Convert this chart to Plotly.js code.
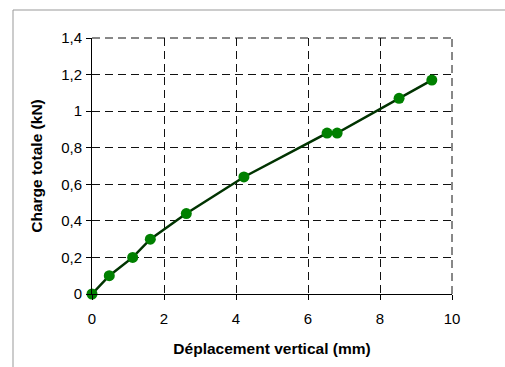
<!DOCTYPE html>
<html>
<head>
<meta charset="utf-8">
<script src="https://cdn.plot.ly/plotly-3.0.1.min.js"></script>
<style>
html,body{margin:0;padding:0;background:#fff;}
#chart{width:505px;height:367px;}
</style>
</head>
<body>
<div id="chart"></div>
<script>
const deplacement = [0, 0.48, 1.13, 1.62, 2.62, 4.22, 6.53, 6.81, 8.53, 9.44];
const charge = [0, 0.10, 0.20, 0.30, 0.44, 0.64, 0.88, 0.88, 1.07, 1.17];

const xTitle = 'Déplacement vertical (mm)';
const yTitle = 'Charge totale (kN)';

const trace = {
  x: deplacement,
  y: charge,
  type: 'scatter',
  mode: 'lines+markers',
  line: {color: '#003300', width: 2.5},
  marker: {color: '#008000', size: 11},
  cliponaxis: false,
  showlegend: false
};

const gridDash = '8px,5px';

const layout = {
  width: 505,
  height: 367,
  margin: {l: 92, r: 53, t: 38, b: 73},
  paper_bgcolor: '#ffffff',
  plot_bgcolor: '#ffffff',
  separators: ', ',
  font: {family: 'Liberation Sans, Arial, sans-serif', size: 15, color: '#000'},
  xaxis: {
    range: [0, 10],
    dtick: 2,
    tick0: 0,
    showline: true,
    linecolor: '#000',
    linewidth: 1,
    showgrid: true,
    gridcolor: '#111',
    griddash: gridDash,
    gridwidth: 1,
    zeroline: false,
    ticks: 'outside',
    ticklen: 5,
    tickcolor: '#000',
    ticklabelstandoff: 6,
    tickfont: {size: 15},
    title: {text: xTitle, font: {size: 15.5, weight: 'bold'}, standoff: 17}
  },
  yaxis: {
    range: [0, 1.4],
    dtick: 0.2,
    tick0: 0,
    showline: true,
    linecolor: '#000',
    linewidth: 1,
    showgrid: true,
    gridcolor: '#111',
    griddash: gridDash,
    gridwidth: 1,
    zeroline: false,
    ticks: 'outside',
    ticklen: 5,
    tickcolor: '#000',
    ticklabelstandoff: 1,
    tickfont: {size: 15},
    title: {text: yTitle, font: {size: 15.5, weight: 'bold'}, standoff: 14}
  },
  shapes: [
    {type: 'line', xref: 'paper', yref: 'paper', x0: 0, x1: 1, y0: 1, y1: 1,
     line: {color: '#111', width: 1, dash: gridDash}, layer: 'below'},
    {type: 'line', xref: 'paper', yref: 'paper', x0: 1, x1: 1, y0: 0, y1: 1,
     line: {color: '#111', width: 1, dash: gridDash}, layer: 'below'},
    {type: 'rect', xref: 'paper', yref: 'paper', x0: 0, x1: 1, y0: 0, y1: 1,
     line: {color: '#999', width: 1}, fillcolor: 'rgba(0,0,0,0)', layer: 'below'}
  ]
};

// outer frame in pixel terms: left x=13, top y=10, running off right and bottom
const plotW = 505 - 92 - 53, plotH = 367 - 38 - 73;
const frame = layout.shapes[2];
frame.x0 = (13 - 92) / plotW;
frame.y1 = 1 + (38 - 10) / plotH;
frame.x1 = 1 + (53 + 5) / plotW;
frame.y0 = -(73 + 5) / plotH;

Plotly.newPlot('chart', [trace], layout, {displayModeBar: false, staticPlot: true});
</script>
</body>
</html>
